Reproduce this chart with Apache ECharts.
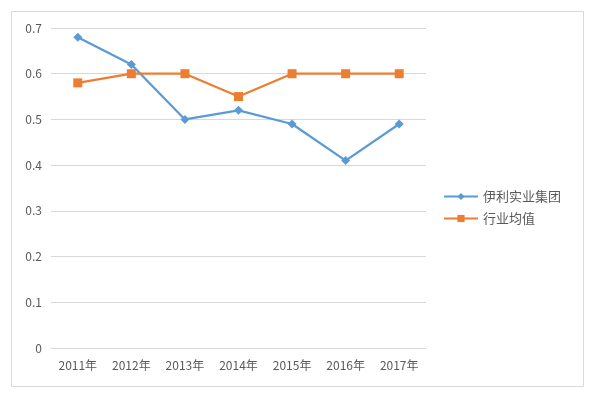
<!DOCTYPE html>
<html><head><meta charset="utf-8">
<script src="https://cdn.jsdelivr.net/npm/echarts@6/dist/echarts.min.js"></script>
<style>html,body{margin:0;padding:0;background:#fff}#c{width:594px;height:393px}</style>
</head><body><div id="c"></div>
<script>
const categories = ['2011年','2012年','2013年','2014年','2015年','2016年','2017年'];
const yiliValues = [0.68, 0.62, 0.50, 0.52, 0.49, 0.41, 0.49];
const industryValues = [0.58, 0.60, 0.60, 0.55, 0.60, 0.60, 0.60];
const seriesNames = ['伊利实业集团', '行业均值'];

const chart = echarts.init(document.getElementById('c'), null, {renderer:'canvas'});
const font = '"Noto Sans CJK SC", "Noto Sans", sans-serif';
chart.setOption({
  animation: false,
  textStyle: {fontFamily: font},
  graphic: [{type:'rect', shape:{x:11.5, y:11.5, width:572, height:375}, style:{fill:'none', stroke:'#D9D9D9', lineWidth:1}, z:-1}],
  grid: {left:51, right:168, top:28, bottom:45},
  legend: {
    orient:'vertical', left:443, top:190, padding:0, itemWidth:34, itemHeight:9, itemGap:9,
    textStyle:{color:'#595959', fontSize:13, fontFamily:font},
    data: seriesNames
  },
  xAxis: {
    type:'category', data:categories, boundaryGap:true,
    axisLine:{lineStyle:{color:'#D9D9D9'}}, axisTick:{show:false},
    axisLabel:{color:'#595959', fontSize:12, margin:11, fontFamily:font}
  },
  yAxis: {
    type:'value', min:0, max:0.7, interval:0.1,
    axisLine:{show:false}, axisTick:{show:false},
    splitLine:{lineStyle:{color:'#D9D9D9'}},
    axisLabel:{color:'#595959', fontSize:12, margin:9, fontFamily:font, formatter: v => v===0 ? '0' : v.toFixed(1)}
  },
  series: [
    {name:seriesNames[0], type:'line', data:yiliValues, symbol:'diamond', symbolSize:9,
     lineStyle:{color:'#5B9BD5', width:2.25}, itemStyle:{color:'#5B9BD5'}, z:2},
    {name:seriesNames[1], type:'line', data:industryValues, symbol:'rect', symbolSize:9,
     lineStyle:{color:'#ED7D31', width:2.25}, itemStyle:{color:'#ED7D31'}, z:3}
  ]
});
</script></body></html>
